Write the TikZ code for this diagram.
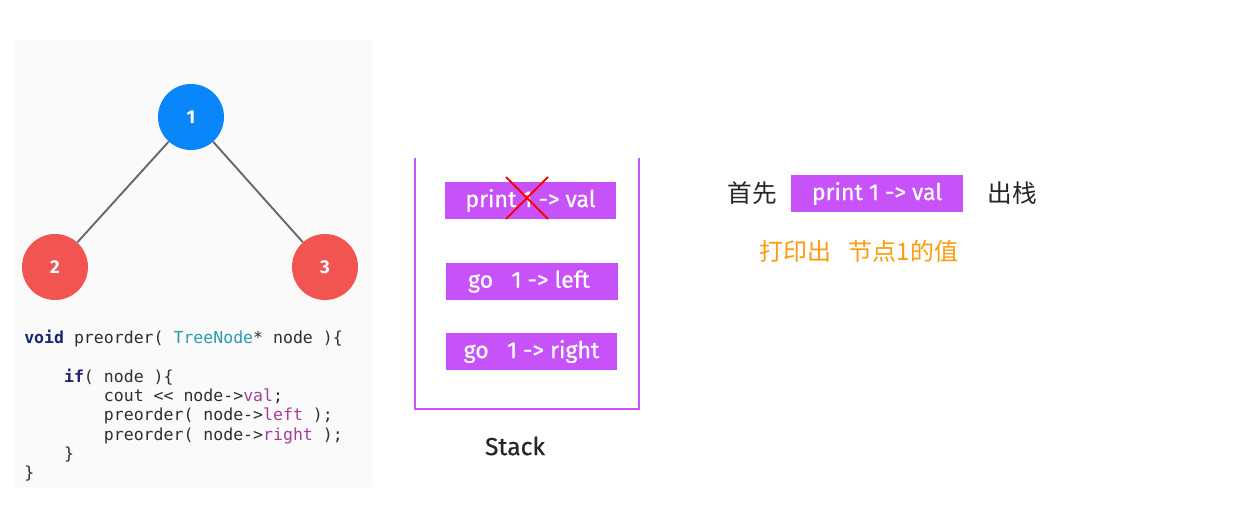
\documentclass[tikz,border=0pt]{standalone}
\usepackage{fontspec}
\setmainfont{Fira Sans}
\setmonofont{DejaVu Sans Mono}
\newfontfamily\cjk{Noto Sans CJK SC}
\newfontfamily\boxfont[FakeBold=0.7]{Fira Sans}
\usetikzlibrary{calc}
\definecolor{stackpurple}{HTML}{C955F7}
\definecolor{boxpurple}{HTML}{C852F9}
\definecolor{treeblue}{HTML}{0A86FB}
\definecolor{treered}{HTML}{F25452}
\definecolor{kwnavy}{HTML}{1B2470}
\definecolor{typeteal}{HTML}{2A9CB0}
\definecolor{fieldpurple}{HTML}{A3409C}
\definecolor{notegold}{HTML}{FF9A0A}
\definecolor{codegray}{HTML}{2E2E2E}
\tikzset{
	treenode/.style={circle, minimum size=49.5pt, inner sep=0pt, text=white, font=\fontsize{14}{16}\selectfont\bfseries},
	opbox/.style={fill=boxpurple, text=white, minimum width=128.5pt, minimum height=27.75pt, inner sep=0pt, font=\boxfont\fontsize{17.3}{20}\selectfont},
	codeline/.style={anchor=base west, inner sep=0pt, text=codegray, font=\ttfamily\fontsize{12.4}{14.3}\selectfont},
	cjktext/.style={inner sep=0pt, font=\cjk\fontsize{18.5}{22}\selectfont}
}
\begin{document}
\begin{tikzpicture}[x=0.75pt, y=-0.75pt]
		%%%%% START %%%%%
		\useasboundingbox (0, 0) rectangle (1260, 513);
		
		\fill[black!2] (15, 40) rectangle (372, 487);
		
		\node[treenode, fill=treeblue] (n1) at (191, 117) {1};
		\node[treenode, fill=treered] (n2) at (55, 267) {2};
		\node[treenode, fill=treered] (n3) at (325, 267) {3};
		\draw[line width=1.4pt, color=black!60] (n1) -- (n2);
		\draw[line width=1.4pt, color=black!60] (n1) -- (n3);
		
		\node[codeline] (c1) at (24, 344) {\textcolor{kwnavy}{\bfseries void} preorder( \textcolor{typeteal}{TreeNode}* node )\{};
		\node[codeline] (c2) at (24, 382) {\ \ \ \ \textcolor{kwnavy}{\bfseries if}( node )\{};
		\node[codeline] (c3) at (24, 401) {\ \ \ \ \ \ \ \ cout << node->\textcolor{fieldpurple}{val};};
		\node[codeline] (c4) at (24, 420) {\ \ \ \ \ \ \ \ preorder( node->\textcolor{fieldpurple}{left} );};
		\node[codeline] (c5) at (24, 440) {\ \ \ \ \ \ \ \ preorder( node->\textcolor{fieldpurple}{right} );};
		\node[codeline] (c6) at (24, 459) {\ \ \ \ \}};
		\node[codeline] (c7) at (24, 478) {\}};
		
		\draw[line width=2.2pt, color=stackpurple] (415, 158) -- (415, 409) -- (639, 409) -- (639, 158);
		\node[opbox] (s1) at (530.5, 200.5) {print 1 -> val};
		\node[opbox] (s2) at (532, 281.5) {go\ \ \ 1 -> left\ \ };
		\node[opbox] (s3) at (531.5, 351.5) {go\ \ \ 1 -> right};
		\draw[line width=1.4pt, color=red] (506, 177) -- (548, 219) (506, 219) -- (548, 177);
		\node[inner sep=0pt, font=\boxfont\fontsize{18.5}{22}\selectfont, text=black!85] (stack) at (515, 446) {Stack};
		
		\node[opbox] (out) at (877, 193.5) {print 1 -> val};
		\node[cjktext, text=black!85] (first) at (752, 193) {首先};
		\node[cjktext, text=black!85] (pop) at (1012, 193) {出栈};
		\node[cjktext, text=notegold, font=\cjk\fontsize{18}{21}\selectfont] (note) at (859, 251) {打印出\hspace{0.7em}节点1的值};
		
		%%%%% END %%%%%
\end{tikzpicture}
\end{document}
